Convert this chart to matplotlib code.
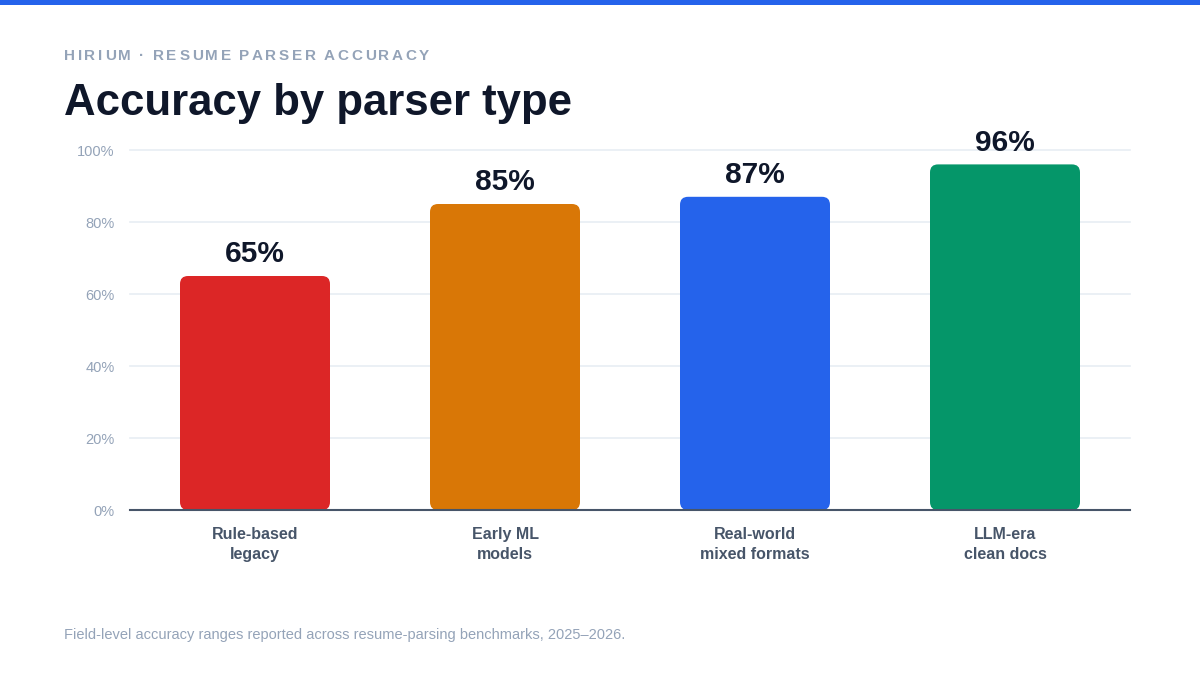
import numpy as np
import matplotlib
matplotlib.use("Agg")
import matplotlib.pyplot as plt
from matplotlib.patches import FancyBboxPatch, Rectangle

plt.rcParams['font.family'] = ['Liberation Sans', 'DejaVu Sans']

# data
categories = ["Rule-based\nlegacy", "Early ML\nmodels", "Real-world\nmixed formats", "LLM-era\nclean docs"]
accuracy = [65, 85, 87, 96]
bar_colors = ["#dc2626", "#d97706", "#2563eb", "#059669"]
yticks = [0, 20, 40, 60, 80, 100]

W, H = 1200, 675
fig = plt.figure(figsize=(12, 6.75), dpi=100)
fig.patch.set_facecolor("white")

# top accent bar
fig.patches.append(Rectangle((0, 1 - 5 / H), 1, 5 / H, transform=fig.transFigure,
                             facecolor="#2563eb", edgecolor="none"))

ax = fig.add_axes([130 / W, 1 - 510 / H, 1000 / W, 360 / H])
ax.set_xlim(-0.5, len(categories) - 0.5)
ax.set_ylim(0, 100)

bw = 0.6
r_px = 8
rx = r_px / 250.0
ry = r_px / 3.6
for i, (v, c) in enumerate(zip(accuracy, bar_colors)):
    p = FancyBboxPatch((i - bw / 2, 0), bw, v,
                       boxstyle="round,pad=0,rounding_size=%f" % rx,
                       mutation_aspect=ry / rx,
                       facecolor=c, edgecolor="none", zorder=3)
    ax.add_patch(p)
    ax.annotate("%d%%" % v, (i, v), xytext=(0, 5.5), textcoords="offset points",
                ha="center", va="bottom", fontsize=21.5, fontweight="bold",
                color="#0f172a", zorder=4)

ax.set_yticks(yticks)
ax.set_yticklabels(["%d%%" % t for t in yticks], color="#94a3b8", fontsize=10.5)
ax.set_xticks(range(len(categories)))
ax.set_xticklabels(categories, color="#475569", fontsize=11.5, fontweight="bold",
                   linespacing=1.45)
ax.tick_params(axis="y", length=0, pad=11)
ax.tick_params(axis="x", length=0, pad=12)
ax.grid(axis="y", color="#e8edf3", linewidth=1.2, zorder=0)
for gl in ax.get_ygridlines():
    gl.set_clip_on(False)
for s in ["top", "right", "left"]:
    ax.spines[s].set_visible(False)
ax.spines["bottom"].set_color("#475569")
ax.spines["bottom"].set_linewidth(1.5)
ax.spines["bottom"].set_zorder(5)

# letter-spaced kicker
kicker = "HIRIUM · RESUME PARSER ACCURACY"
fig.canvas.draw()
renderer = fig.canvas.get_renderer()
x = 64
for ch in kicker:
    t = fig.text(x / W, 1 - 56 / H, ch, fontsize=11, fontweight="bold",
                 color="#94a3b8", va="center", ha="left")
    if ch == " ":
        wpx = 3.1
    else:
        wpx = t.get_window_extent(renderer).width
    x += wpx + 2.6

fig.text(64 / W, 1 - 104 / H, "Accuracy by parser type", fontsize=31.5,
         fontweight="bold", color="#0f172a", va="center", ha="left")
fig.text(64 / W, 1 - 635 / H,
         "Field-level accuracy ranges reported across resume-parsing benchmarks, 2025\u20132026.",
         fontsize=10.55, color="#94a3b8", va="center", ha="left")

fig.savefig("out.png", dpi=100, facecolor="white")
